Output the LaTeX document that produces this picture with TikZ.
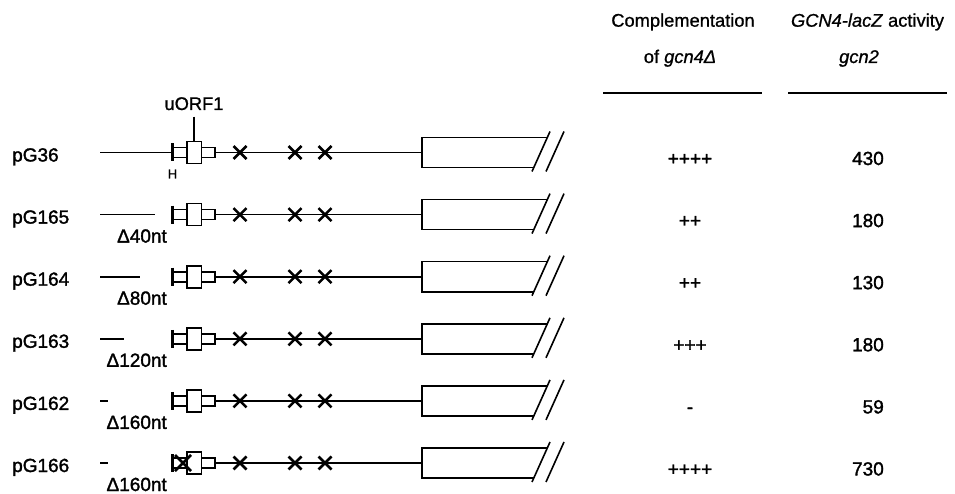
\documentclass[tikz,border=0pt]{standalone}
\usepackage{fontspec}
\setmainfont{Liberation Sans}
\newfontfamily\heavyfont{Liberation Sans}[FakeBold=1.6]
\newfontfamily\semifont{Liberation Sans}[FakeBold=0.9]
\begin{document}
\begin{tikzpicture}[x=1pt,y=-1pt,
  lbl/.style={font=\heavyfont\fontsize{19}{21}\selectfont, inner sep=0pt},
  hdr/.style={font=\semifont\fontsize{18.3}{20}\selectfont, inner sep=0pt},
  small/.style={font=\heavyfont\fontsize{13}{15}\selectfont, inner sep=0pt},
  dna/.style={line width=1.6pt},
  orf/.style={line width=1.6pt, fill=white},
  hbar/.style={line width=3.2pt},
  mut/.style={line width=2.5pt},
  rule/.style={line width=2pt}]
\useasboundingbox (0,0) rectangle (955,494);

% column headings
\node[hdr, anchor=base] (h1a) at (683,26.7) {Complementation};
\node[hdr, anchor=base] (h1b) at (680,63) {of \textit{gcn4Δ}};
\coordinate (r1l) at (603,93); \coordinate (r1r) at (762,93);
\draw[rule] (r1l) -- (r1r);
\node[hdr, anchor=base] (h2a) at (867.5,26.7) {\textit{GCN4-lacZ} activity};
\node[hdr, anchor=base] (h2b) at (859,63) {\textit{gcn2}};
\coordinate (r2l) at (788,93); \coordinate (r2r) at (947,93);
\draw[rule] (r2l) -- (r2r);

% one construct per row
\foreach \name/\lend/\del/\comp/\act [count=\i from 0] in {
    pG36/172.5/{}/++++/430,
    pG165/155/{Δ40nt}/++/180,
    pG164/139.5/{Δ80nt}/++/130,
    pG163/124/{Δ120nt}/+++/180,
    pG162/108/{Δ160nt}/-/59,
    pG166/108/{Δ160nt}/++++/730} {
  \pgfmathsetmacro\y{152.5+62.1*\i}
  \node[lbl, anchor=base west] (name\i) at (12,\y+9) {\name};
  % upstream leader (shortened by the deletions)
  \coordinate (s\i) at (100,\y);
  \coordinate (e\i) at (\lend,\y);
  \draw[dna] (s\i) -- (e\i);
  \node[lbl, anchor=base east] (del\i) at (167,\y+28) {\del};
  % leader downstream of uORF1 up to the coding region
  \coordinate (d\i) at (215,\y);
  \coordinate (c\i) at (422,\y);
  \draw[dna] (d\i) -- (c\i);
  % uORF1 with its flanks
  \draw[orf] (172.5,\y-5) rectangle (187,\y+5);
  \draw[orf] (201.5,\y-5) rectangle (215,\y+5);
  \draw[orf] (187,\y-11) rectangle (201.5,\y+11);
  \draw[hbar] (172.5,\y-9) -- (172.5,\y+9);
  % point mutations in uORFs 2-4
  \foreach \cx in {240,295,325}
    \draw[mut] (\cx-6.5,\y-6.5) -- (\cx+6.5,\y+6.5) (\cx-6.5,\y+6.5) -- (\cx+6.5,\y-6.5);
  % GCN4 coding region, broken at its right end
  \draw[dna] (547.3,\y-15) -- (c\i |- 0,\y-15) -- (c\i |- 0,\y+15) -- (533.8,\y+15);
  \draw[dna] (550,\y-21) -- (532,\y+19);
  \draw[dna] (564,\y-21) -- (546,\y+19);
  % results
  \node[lbl, anchor=base] (comp\i) at (690,\y+12.5) {\comp};
  \node[lbl, anchor=base east] (act\i) at (884,\y+12.5) {\act};
}

% uORF1 label and HindIII site on the first construct
\node[hdr, anchor=base] (uorf) at (194,110) {uORF1};
\coordinate (ut) at (194,116.7);
\coordinate (ub) at (194,141.5);
\draw[dna] (ut) -- (ub);
\node[small, anchor=base] (hsite) at (172.5,178.5) {H};

% uORF1 start codon mutated in pG166
\draw[mut] (175,455) -- (191,471) (175,471) -- (191,455);
\end{tikzpicture}
\end{document}
